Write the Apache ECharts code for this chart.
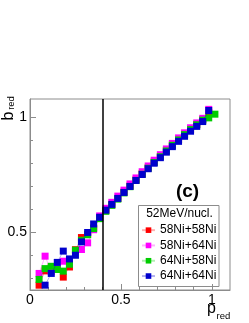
<!DOCTYPE html>
<html>
<head>
<meta charset="utf-8">
<script src="https://cdn.jsdelivr.net/npm/echarts@6/dist/echarts.min.js"></script>
<style>
html,body{margin:0;padding:0;background:#fff;}
#chart{width:249px;height:323px;}
</style>
</head>
<body>
<div id="chart"></div>
<script>
// ---- data ----
const pRed = [0.050, 0.083, 0.117, 0.150, 0.183, 0.217, 0.250, 0.283, 0.317, 0.350,
              0.383, 0.417, 0.450, 0.483, 0.517, 0.550, 0.583, 0.617, 0.650, 0.683,
              0.717, 0.750, 0.783, 0.817, 0.850, 0.883, 0.917, 0.950, 0.983, 1.017];
const bNi58Ni58 = [0.271, 0.333, 0.350, 0.345, 0.306, 0.350, 0.425, 0.478, 0.492, 0.520,
                   0.563, 0.595, 0.620, 0.648, 0.675, 0.702, 0.729, 0.755, 0.781, 0.806,
                   0.830, 0.855, 0.879, 0.903, 0.926, 0.948, 0.969, 0.990, 1.020, null];
const bNi58Ni64 = [0.322, 0.397, 0.330, 0.345, 0.375, 0.365, 0.420, 0.426, 0.455, 0.512,
                   0.572, 0.605, 0.631, 0.658, 0.684, 0.711, 0.737, 0.764, 0.789, 0.814,
                   0.838, 0.863, 0.887, 0.911, 0.933, 0.955, 0.976, 0.996, 1.035, null];
const bNi64Ni58 = [0.296, 0.343, 0.353, 0.339, 0.332, 0.362, 0.423, 0.466, 0.490, 0.517,
                   0.560, 0.592, 0.618, 0.645, 0.672, 0.699, 0.726, 0.753, 0.779, 0.804,
                   0.829, 0.854, 0.879, 0.902, 0.925, 0.947, 0.968, 0.988, 0.998, 1.014];
const bNi64Ni64 = [null, 0.271, 0.322, 0.370, 0.419, 0.385, 0.401, 0.459, 0.500, 0.537,
                   0.566, 0.597, 0.622, 0.648, 0.674, 0.700, 0.726, 0.752, 0.777, 0.801,
                   0.825, 0.849, 0.873, 0.896, 0.918, 0.940, 0.961, 0.982, 1.030, null];
const seriesNames = ['58Ni+58Ni', '58Ni+64Ni', '64Ni+58Ni', '64Ni+64Ni'];
const seriesValues = [bNi58Ni58, bNi58Ni64, bNi64Ni58, bNi64Ni64];
const seriesColors = ['#ff0000', '#ff00ff', '#00cc00', '#0000cc'];
const xMajorTicks = [0, 0.5, 1];
const xMinorTicks = [0.1, 0.2, 0.3, 0.4, 0.6, 0.7, 0.8, 0.9];
const yMajorTicks = [0.5, 1];
const yMinorTicks = [0.3, 0.4, 0.6, 0.7, 0.8, 0.9];
const cutP = 0.4;
const legendTitle = '52MeV/nucl.';
const panelLabel = '(c)';

// ---- chart ----
const chart = echarts.init(document.getElementById('chart'), null, {renderer: 'canvas'});
const gray = '#8c8c8c';
const font = 'Liberation Sans, Arial, sans-serif';

function pairs(vals) {
  const out = [];
  for (let i = 0; i < pRed.length; i++) {
    if (vals[i] !== null) out.push([pRed[i], vals[i]]);
  }
  return out;
}

const series = seriesNames.map((name, i) => ({
  name: name,
  type: 'line',
  xAxisIndex: 0,
  yAxisIndex: 0,
  data: pairs(seriesValues[i]),
  symbol: 'rect',
  symbolSize: 7,
  showSymbol: true,
  itemStyle: {color: seriesColors[i]},
  lineStyle: {color: seriesColors[i], width: 1, opacity: 0.3},
  z: 2 + i
}));
series[3].markLine = {
  silent: true,
  symbol: 'none',
  label: {show: false},
  lineStyle: {color: '#000', width: 1.5, type: 'solid'},
  data: [{xAxis: cutP}],
  z: 10
};

const xBase = {
  type: 'value', min: 0, max: 1.1, position: 'bottom', gridIndex: 0,
  splitLine: {show: false}
};
const yBase = {
  type: 'value', min: 0.25, max: 1.08, position: 'left', gridIndex: 0,
  splitLine: {show: false}
};

chart.setOption({
  animation: false,
  backgroundColor: '#fff',
  grid: {left: 30, right: 19, top: 99, bottom: 33, show: true, borderColor: gray, borderWidth: 1},
  xAxis: [
    Object.assign({}, xBase, {
      axisLine: {show: true, onZero: false, lineStyle: {color: gray, width: 1}},
      axisTick: {show: true, inside: true, length: 6, customValues: xMajorTicks, lineStyle: {color: gray}},
      axisLabel: {show: true, customValues: xMajorTicks, margin: 3, color: '#000', fontSize: 14, fontFamily: font,
                  formatter: v => String(v)}
    }),
    Object.assign({}, xBase, {
      axisLine: {show: false, onZero: false},
      axisTick: {show: true, inside: true, length: 3, customValues: xMinorTicks, lineStyle: {color: gray}},
      axisLabel: {show: false}
    })
  ],
  yAxis: [
    Object.assign({}, yBase, {
      axisLine: {show: true, onZero: false, lineStyle: {color: gray, width: 1}},
      axisTick: {show: true, inside: true, length: 6, customValues: yMajorTicks, lineStyle: {color: gray}},
      axisLabel: {show: true, customValues: yMajorTicks, margin: 3, color: '#000', fontSize: 14, fontFamily: font,
                  formatter: v => String(v)}
    }),
    Object.assign({}, yBase, {
      axisLine: {show: false, onZero: false},
      axisTick: {show: true, inside: true, length: 3, customValues: yMinorTicks, lineStyle: {color: gray}},
      axisLabel: {show: false}
    })
  ],
  legend: {
    orient: 'vertical',
    left: 141,
    top: 222.5,
    padding: 0,
    itemGap: 0,
    itemWidth: 13,
    itemHeight: 7,
    data: seriesNames,
    textStyle: {fontSize: 12, fontFamily: font, color: '#000', lineHeight: 15.3}
  },
  graphic: [
    {type: 'rect', z: 0, shape: {x: 138.5, y: 205.5, width: 80.5, height: 81},
     style: {fill: '#fff', stroke: gray, lineWidth: 1}},
    {type: 'text', z: 5, x: 179.5, y: 214,
     style: {text: legendTitle, font: '12px ' + font, fill: '#000', align: 'center', verticalAlign: 'middle'}},
    {type: 'text', z: 5, x: 187.5, y: 191.5,
     style: {text: panelLabel, font: 'bold 19px ' + font, fill: '#000', align: 'center', verticalAlign: 'middle'}},
    {type: 'text', z: 5, x: 216, y: 309,
     style: {text: 'p', font: '16px ' + font, fill: '#000', align: 'right', verticalAlign: 'middle'}},
    {type: 'text', z: 5, x: 216.5, y: 316.5,
     style: {text: 'red', font: '9.5px ' + font, fill: '#000', align: 'left', verticalAlign: 'middle'}},
    {type: 'text', z: 5, x: 9, y: 116, rotation: Math.PI / 2,
     style: {text: 'b', font: '16px ' + font, fill: '#000', align: 'center', verticalAlign: 'middle'}},
    {type: 'text', z: 5, x: 11.5, y: 103, rotation: Math.PI / 2,
     style: {text: 'red', font: '9.5px ' + font, fill: '#000', align: 'center', verticalAlign: 'middle'}}
  ],
  series: series
});
</script>
</body>
</html>
